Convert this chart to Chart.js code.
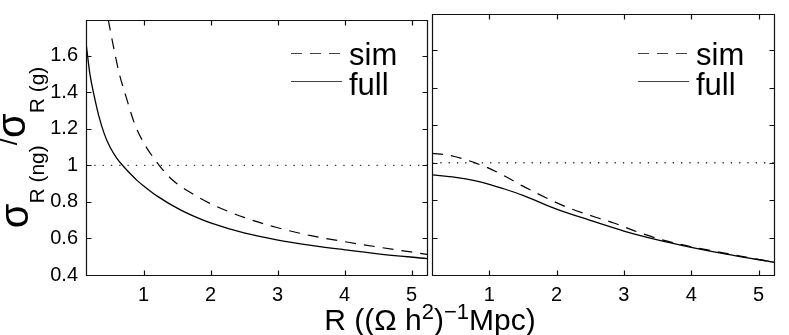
<!DOCTYPE html>
<html>
<head>
<meta charset="utf-8">
<script src="https://cdn.jsdelivr.net/npm/chart.js@4/dist/chart.umd.min.js"></script>
<style>
body { margin: 0; background: #fff; }
#wrap { position: relative; width: 789px; height: 335px; }
#wrap canvas { position: absolute; left: 0; top: 0; }
</style>
</head>
<body>
<div id="wrap">
	<canvas id="left" width="789" height="335"></canvas>
	<canvas id="right" width="789" height="335"></canvas>
</div>
<script>
// values
const leftSimR  = [0.474, 0.564, 0.638, 0.738, 0.862, 0.985, 1.234, 1.433, 1.756, 2.0, 2.5, 2.988, 3.5, 4.055, 4.5, 5.23];
const leftSim   = [1.797, 1.627, 1.502, 1.377, 1.233, 1.135, 1.0, 0.92, 0.839, 0.79, 0.715, 0.66, 0.615, 0.579, 0.553, 0.513];
const leftFullR = [0.142, 0.2, 0.266, 0.33, 0.415, 0.5, 0.6, 0.70, 0.8, 0.911, 1.0, 1.21, 1.557, 1.845, 2.0, 2.5, 2.988, 3.5, 4.0, 4.5, 5.23];
const leftFull  = [1.672, 1.50, 1.377, 1.275, 1.172, 1.10, 1.04, 0.995, 0.955, 0.915, 0.888, 0.830, 0.755, 0.707, 0.685, 0.630, 0.592, 0.562, 0.538, 0.516, 0.490];

const rightSimR  = [0.15, 0.4, 0.6, 0.8, 1.0, 1.25, 1.5, 1.85, 2.17, 2.57, 2.85, 3.19, 3.51, 3.86, 4.3, 4.75, 5.23];
const rightSim   = [1.05, 1.04, 1.022, 0.998, 0.97, 0.925, 0.875, 0.812, 0.76, 0.71, 0.678, 0.632, 0.594, 0.562, 0.53, 0.5, 0.468];
const rightFullR = [0.15, 0.5, 0.8, 1.0, 1.25, 1.5, 2.0, 2.5, 3.0, 3.5, 4.0, 4.5, 5.23];
const rightFull  = [0.935, 0.922, 0.903, 0.885, 0.857, 0.826, 0.752, 0.692, 0.635, 0.588, 0.548, 0.513, 0.468];

const xTicks = [1, 2, 3, 4, 5];
const yTicks = [0.4, 0.6, 0.8, 1, 1.2, 1.4, 1.6];
const legendLabels = ["sim", "full"];
const unityY = 1;
const xRangeLeft = [0.142, 5.23];
const xRangeRight = [0.15, 5.23];
const yRange = [0.4, 1.795];

const family = "'Liberation Sans', Arial, sans-serif";

const pts = (xs, ys) => xs.map((x, i) => ({ x: x, y: ys[i] }));

const drawRich = (ctx, parts, x0, y0) => {
	let x = x0;
	for (let i = 0; i < parts.length; i++) {
		let p = parts[i];
		ctx.font = p.size + "px " + family;
		ctx.fillText(p.text, x, y0 + p.dy);
		x += ctx.measureText(p.text).width;
	}
};

const richWidth = (ctx, parts) => {
	let w = 0;
	for (let i = 0; i < parts.length; i++) {
		ctx.font = parts[i].size + "px " + family;
		w += ctx.measureText(parts[i].text).width;
	}
	return w;
};

// box round the plot with inward ticks on all four sides
const framePlugin = {
	id: "frame",
	afterDatasetsDraw(chart) {
		const { ctx, chartArea: a, scales } = chart;
		const L = Math.round(a.left) + 0.5, R = Math.round(a.right) + 0.5;
		const T = Math.round(a.top) + 0.5, B = Math.round(a.bottom) + 0.5;
		const tl = 5;
		ctx.save();
		ctx.strokeStyle = "#111";
		ctx.lineWidth = 1.2;
		ctx.beginPath();
		ctx.rect(L, T, R - L, B - T);
		scales.x.ticks.forEach(t => {
			let px = Math.round(scales.x.getPixelForValue(t.value)) + 0.5;
			ctx.moveTo(px, B); ctx.lineTo(px, B - tl);
			ctx.moveTo(px, T); ctx.lineTo(px, T + tl);
		});
		scales.y.ticks.forEach(t => {
			let py = Math.round(scales.y.getPixelForValue(t.value)) + 0.5;
			ctx.moveTo(L, py); ctx.lineTo(L + tl, py);
			ctx.moveTo(R, py); ctx.lineTo(R - tl, py);
		});
		ctx.stroke();
		ctx.restore();
	}
};

// legend in the top right corner of each panel
const legendPlugin = {
	id: "cornerLegend",
	afterDatasetsDraw(chart) {
		const { ctx, chartArea: a } = chart;
		ctx.save();
		ctx.font = "31px " + family;
		ctx.textBaseline = "alphabetic";
		ctx.fillStyle = "#000";
		const rows = [{ base: 65, line: 53 }, { base: 95, line: 81 }];
		chart.data.datasets.forEach(ds => {
			let i = legendLabels.indexOf(ds.label);
			if (i < 0) { return; }
			ctx.strokeStyle = "#444";
			ctx.lineWidth = 1.2;
			ctx.setLineDash(ds.borderDash || []);
			ctx.beginPath();
			ctx.moveTo(a.right - 136, rows[i].line + 0.5);
			ctx.lineTo(a.right - 85, rows[i].line + 0.5);
			ctx.stroke();
			ctx.setLineDash([]);
			ctx.fillText(ds.label, a.right - 78, rows[i].base);
		});
		ctx.restore();
	}
};

// axis titles, drawn once from the left chart
const titlePlugin = {
	id: "titles",
	afterDraw(chart) {
		const { ctx, chartArea: a } = chart;
		ctx.save();
		ctx.fillStyle = "#000";
		ctx.textBaseline = "alphabetic";

		let xParts = [
			{ text: "R ((Ω h", size: 30, dy: 0 },
			{ text: "2", size: 22, dy: -11 },
			{ text: ")", size: 30, dy: 0 },
			{ text: "−1", size: 22, dy: -11 },
			{ text: "Mpc)", size: 30, dy: 0 }
		];
		let w = richWidth(ctx, xParts);
		drawRich(ctx, xParts, 430 - w / 2, 330);

		let yParts = [
			{ text: "σ", size: 40, dy: 0 },
			{ text: "R (ng)", size: 21, dy: 16 },
			{ text: "/", size: 26, dy: -11 },
			{ text: "σ", size: 40, dy: -3 },
			{ text: "R (g)", size: 21, dy: 16 }
		];
		let h = richWidth(ctx, yParts);
		let cy = (a.top + a.bottom) / 2;
		ctx.translate(28, cy + h / 2);
		ctx.rotate(-Math.PI / 2);
		drawRich(ctx, yParts, 0, 0);
		ctx.restore();
	}
};

const makePanel = (id, simR, sim, fullR, full, xRange, opts) => {
	return new Chart(document.getElementById(id), {
		type: "scatter",
		data: {
			datasets: [{
				label: "sim",
				data: pts(simR, sim),
				showLine: true,
				borderColor: "#000",
				borderWidth: 1.2,
				borderDash: [11, 8],
				pointRadius: 0,
				cubicInterpolationMode: "monotone"
			}, {
				label: "full",
				data: pts(fullR, full),
				showLine: true,
				borderColor: "#000",
				borderWidth: 1.3,
				pointRadius: 0,
				cubicInterpolationMode: "monotone"
			}, {
				label: "",
				data: pts(xRange, [unityY, unityY]),
				showLine: true,
				borderColor: "#333",
				borderWidth: 1.3,
				borderDash: [1.3, 7],
				pointRadius: 0
			}]
		},
		options: {
			responsive: false,
			animation: false,
			events: [],
			layout: { padding: { top: 14, right: opts.padRight, left: 0, bottom: 0 } },
			scales: {
				x: {
					type: "linear",
					min: xRange[0],
					max: xRange[1],
					grid: { display: false, drawTicks: false },
					border: { display: false },
					afterBuildTicks: s => { s.ticks = xTicks.map(v => ({ value: v })); },
					afterFit: s => { s.height = 60; },
					ticks: {
						autoSkip: false,
						maxRotation: 0,
						padding: 8,
						color: "#000",
						font: { family: family, size: 20 },
						callback: v => String(v)
					}
				},
				y: {
					type: "linear",
					min: yRange[0],
					max: yRange[1],
					grid: { display: false, drawTicks: false },
					border: { display: false },
					afterBuildTicks: s => { s.ticks = yTicks.map(v => ({ value: v })); },
					afterFit: s => { s.width = opts.yWidth; },
					ticks: {
						display: opts.yLabels,
						padding: 8,
						color: "#000",
						font: { family: family, size: 20 },
						callback: v => String(+v.toFixed(1))
					}
				}
			},
			plugins: {
				legend: { display: false },
				tooltip: { enabled: false }
			}
		},
		plugins: opts.withTitles ? [framePlugin, legendPlugin, titlePlugin] : [framePlugin, legendPlugin]
	});
};

makePanel("left", leftSimR, leftSim, leftFullR, leftFull, xRangeLeft,
	{ padRight: 362, yWidth: 86, yLabels: true, withTitles: true });
makePanel("right", rightSimR, rightSim, rightFullR, rightFull, xRangeRight,
	{ padRight: 15, yWidth: 432, yLabels: false, withTitles: false });
</script>
</body>
</html>
